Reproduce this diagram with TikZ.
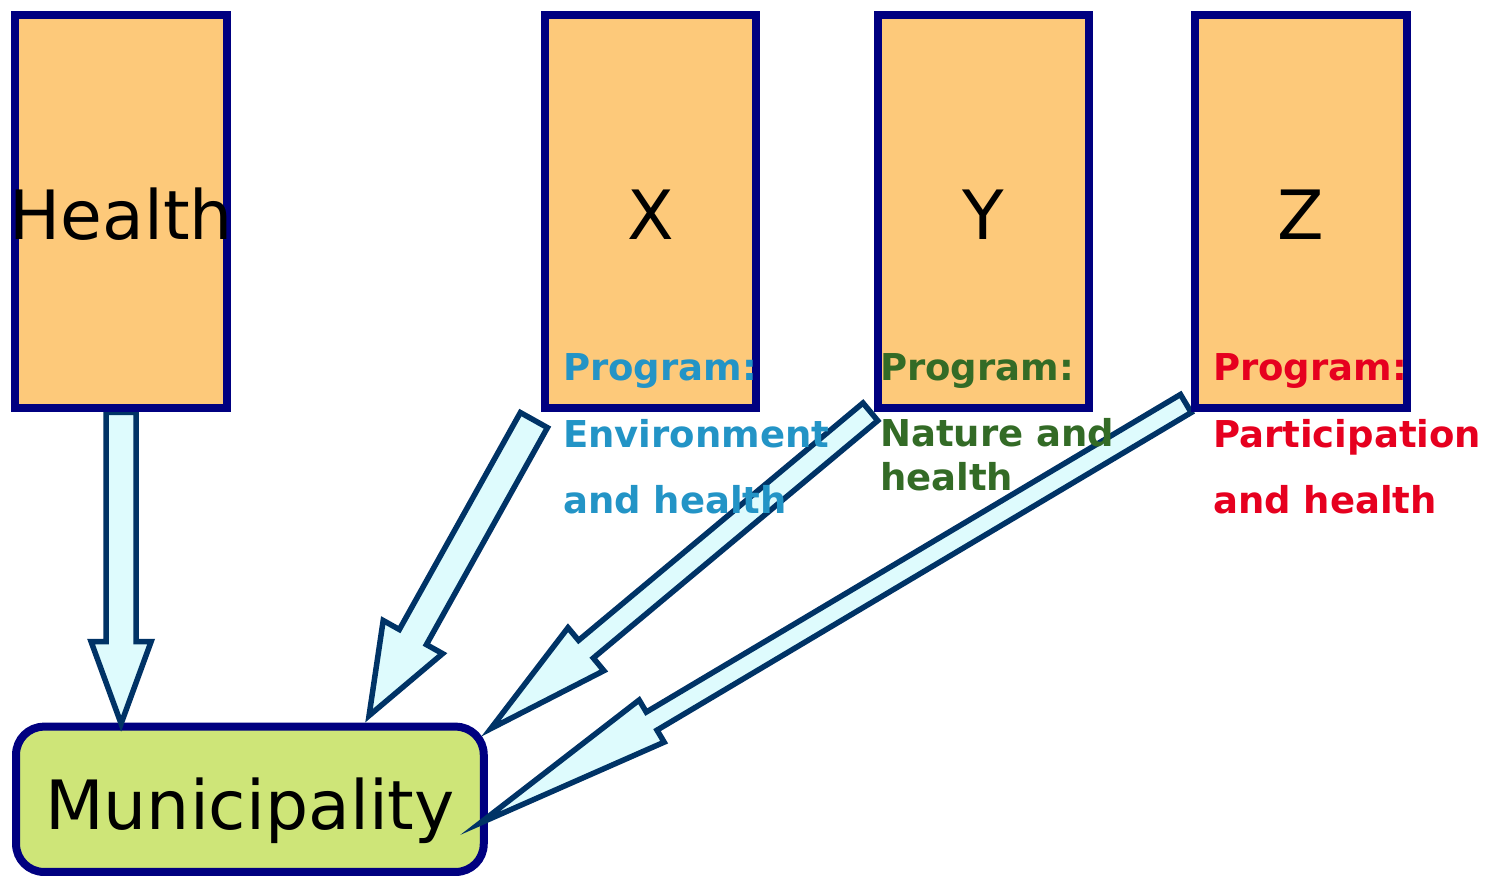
\documentclass[tikz,border=0pt]{standalone}
\usepackage{fontspec}
\setmainfont{DejaVu Sans}
\usetikzlibrary{calc}

\definecolor{boxline}{RGB}{0,0,128}
\definecolor{boxfill}{RGB}{253,201,122}
\definecolor{townfill}{RGB}{206,229,120}
\definecolor{flowfill}{RGB}{222,251,253}
\definecolor{flowline}{RGB}{0,51,102}
\definecolor{envblue}{RGB}{35,148,198}
\definecolor{natgreen}{RGB}{51,107,38}
\definecolor{partred}{RGB}{230,0,31}

\pgfdeclarelayer{bottom}
\pgfdeclarelayer{flows}
\pgfsetlayers{bottom,flows,main}

% block arrow: tail, tip, shaft half-width, head half-width, head length
\newcommand{\blockarrow}[5]{%
  \coordinate (#1-base) at ($(#2)!#5!(#1)$);
  \draw[flow] ($(#1)!#3!90:(#2)$) -- ($(#1-base)!#3!90:(#2)$)
    -- ($(#1-base)!#4!90:(#2)$) -- (#2)
    -- ($(#1-base)!#4!-90:(#2)$) -- ($(#1-base)!#3!-90:(#2)$)
    -- ($(#1)!#3!-90:(#2)$) -- cycle;
}

\tikzset{
  column/.style={draw=boxline, fill=boxfill, line width=8pt,
    minimum width=211.5pt, minimum height=393pt, inner sep=0pt,
    text height=56pt, text depth=0pt, font=\fontsize{68}{72}\selectfont},
  townbox/.style={draw=boxline, fill=townfill, line width=8pt,
    rounded corners=28pt, minimum width=467.7pt, minimum height=145.3pt,
    inner sep=0pt, text height=59.4pt, text depth=0pt,
    font=\fontsize{68}{72}\selectfont},
  flow/.style={draw=flowline, fill=flowfill, line width=5.5pt,
    line join=miter, miter limit=12},
  lbl/.style={anchor=base west, inner sep=0pt,
    font=\fontsize{37}{44}\selectfont\bfseries},
}

\begin{document}
\begin{tikzpicture}[x=1pt, y=-1pt]
\useasboundingbox (0,0) rectangle (1488,877);

% the municipality sits underneath the arrows
\begin{pgfonlayer}{bottom}
  \node[townbox] (muni) at (249.9,799.3) {Municipality};
\end{pgfonlayer}

% the four columns
\node[column] (health) at (121.1,211.9) {\makebox[0pt]{Health}};
\node[column] (X) at (650.4,211.9) {X};
\node[column] (Y) at (983.5,211.9) {Y};
\node[column] (Z) at (1301,211.9) {Z};

% arrow end points
\coordinate (hTail) at (health.south);
\coordinate (hTip) at ($(health.south |- muni.north)+(0,1)$);
\coordinate (xTail) at ($(X.south west)+(-6.75,7.7)$);
\coordinate (xTip) at ($(muni.north west)+(357,-7)$);
\coordinate (yTail) at ($(Y.south west)+(-3.4,-0.6)$);
\coordinate (yTip) at ($(muni.north east)+(3,6)$);
\coordinate (zTail) at ($(Z.south west)+(-5.4,-8.9)$);
\coordinate (zTip) at ($(muni.east)+(-8,24)$);

\begin{pgfonlayer}{flows}
  \blockarrow{hTail}{hTip}{15pt}{30pt}{82pt}
  \blockarrow{xTail}{xTip}{15.5pt}{34pt}{90pt}
  \blockarrow{yTail}{yTip}{11.5pt}{28pt}{124pt}
  \blockarrow{zTail}{zTip}{10.5pt}{24.5pt}{200pt}
\end{pgfonlayer}

% programme labels
\node[lbl, text=envblue] (xl1) at (563,380) {Program:};
\node[lbl, text=envblue] (xl2) at (563,447) {Environment};
\node[lbl, text=envblue] (xl3) at (563,513) {and health};

\node[lbl, text=natgreen] (yl1) at (880,380) {Program:};
\node[lbl, text=natgreen] (yl2) at (880,446) {Nature and};
\node[lbl, text=natgreen] (yl3) at (880,490) {health};

\node[lbl, text=partred] (zl1) at (1213,380) {Program:};
\node[lbl, text=partred] (zl2) at (1213,447) {Participation};
\node[lbl, text=partred] (zl3) at (1213,513) {and health};
\end{tikzpicture}
\end{document}
